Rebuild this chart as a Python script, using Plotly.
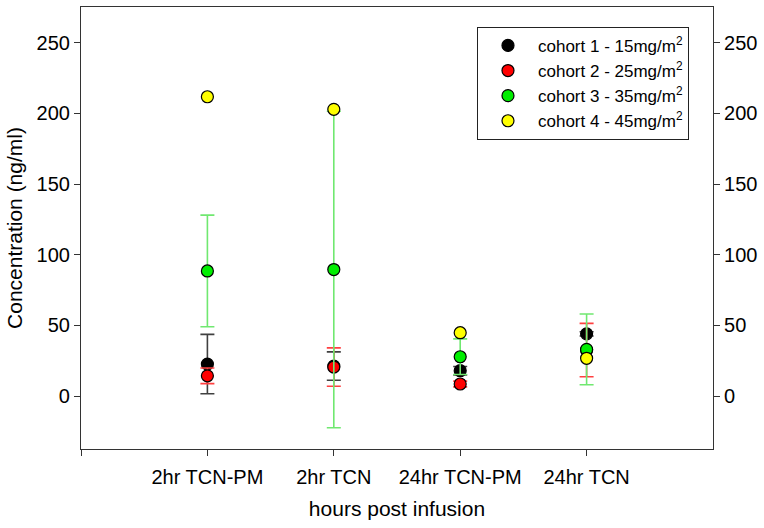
import plotly.graph_objects as go

categories = ["2hr TCN-PM", "2hr TCN", "24hr TCN-PM", "24hr TCN"]
x_pos = [0, 1, 2, 3]
tick_vals = [-1, 0, 1, 2, 3]
tick_text = [""] + categories

names = ["cohort 1 - 15mg/m<sup>2</sup>", "cohort 2 - 25mg/m<sup>2</sup>",
         "cohort 3 - 35mg/m<sup>2</sup>", "cohort 4 - 45mg/m<sup>2</sup>"]
c1_vals = [22.6, 21.2, 17.9, 44.0]
c1_err = [21.0, 10.0, 3.0, 1.5]
c2_vals = [14.3, 20.5, 8.5, 32.5]
c2_err = [5.5, 13.6, 2.0, 18.9]
c3_vals = [88.5, 89.5, 27.8, 33.0]
c3_err = [39.5, 112.0, 12.6, 25.0]
c4_vals = [211.8, 202.9, 44.8, 26.7]

marker_colors = ["#000000", "#ff0000", "#00ee00", "#ffff00"]
err_colors = ["#404040", "#ff4040", "#70e870", None]

FONT = "Liberation Sans, Arial, Helvetica, sans-serif"

fig = go.Figure()
series = [(c1_vals, c1_err), (c2_vals, c2_err), (c3_vals, c3_err), (c4_vals, None)]
for i, (vals, err) in enumerate(series):
    tr = dict(
        x=x_pos, y=vals, mode="markers", name=names[i],
        marker=dict(size=12, color=marker_colors[i], line=dict(color="#000000", width=1.2)),
    )
    if err is not None:
        tr["error_y"] = dict(type="data", array=err, visible=True, color=err_colors[i],
                             thickness=1.6, width=7)
    fig.add_trace(go.Scatter(**tr))

# dummy trace to show the right-hand axis
fig.add_trace(go.Scatter(x=[None], y=[None], yaxis="y2", showlegend=False, hoverinfo="skip"))

yr = [-37.5, 275.3]
fig.update_layout(
    width=764, height=528,
    margin=dict(l=81, r=51, t=7, b=79, autoexpand=False),
    paper_bgcolor="white", plot_bgcolor="white",
    font=dict(family=FONT, size=20, color="black"),
    showlegend=True,
    legend=dict(x=0.962, y=0.955, xanchor="right", yanchor="top",
                bordercolor="#222222", borderwidth=1, bgcolor="white",
                font=dict(size=17, family=FONT), itemwidth=50, tracegroupgap=0),
    xaxis=dict(range=[-1, 4.0], tickmode="array", tickvals=tick_vals, ticktext=tick_text,
               showgrid=False, zeroline=False, showline=True, linecolor="#333333", linewidth=1.2,
               mirror=True, ticks="outside", ticklen=6, tickcolor="#333333", automargin=False,
               ticklabelstandoff=4,
               title=dict(text="hours post infusion", font=dict(size=21), standoff=14),
               tickfont=dict(size=20)),
    yaxis=dict(range=yr, tickmode="linear", tick0=0, dtick=50, automargin=False,
               showgrid=False, zeroline=False, showline=True, linecolor="#333333", linewidth=1.2,
               ticks="outside", ticklen=6, tickcolor="#333333",
               title=dict(text="Concentration (ng/ml)", font=dict(size=21), standoff=8),
               tickfont=dict(size=20)),
    yaxis2=dict(range=yr, overlaying="y", side="right", tickmode="linear", tick0=0, dtick=50,
                automargin=False,
                showgrid=False, zeroline=False, showline=True, linecolor="#333333", linewidth=1.2,
                ticks="outside", ticklen=6, tickcolor="#333333", tickfont=dict(size=20)),
)

fig.write_html("out.html", config={"displayModeBar": False},
               post_script="document.body.style.margin='0';document.body.style.padding='0';")
